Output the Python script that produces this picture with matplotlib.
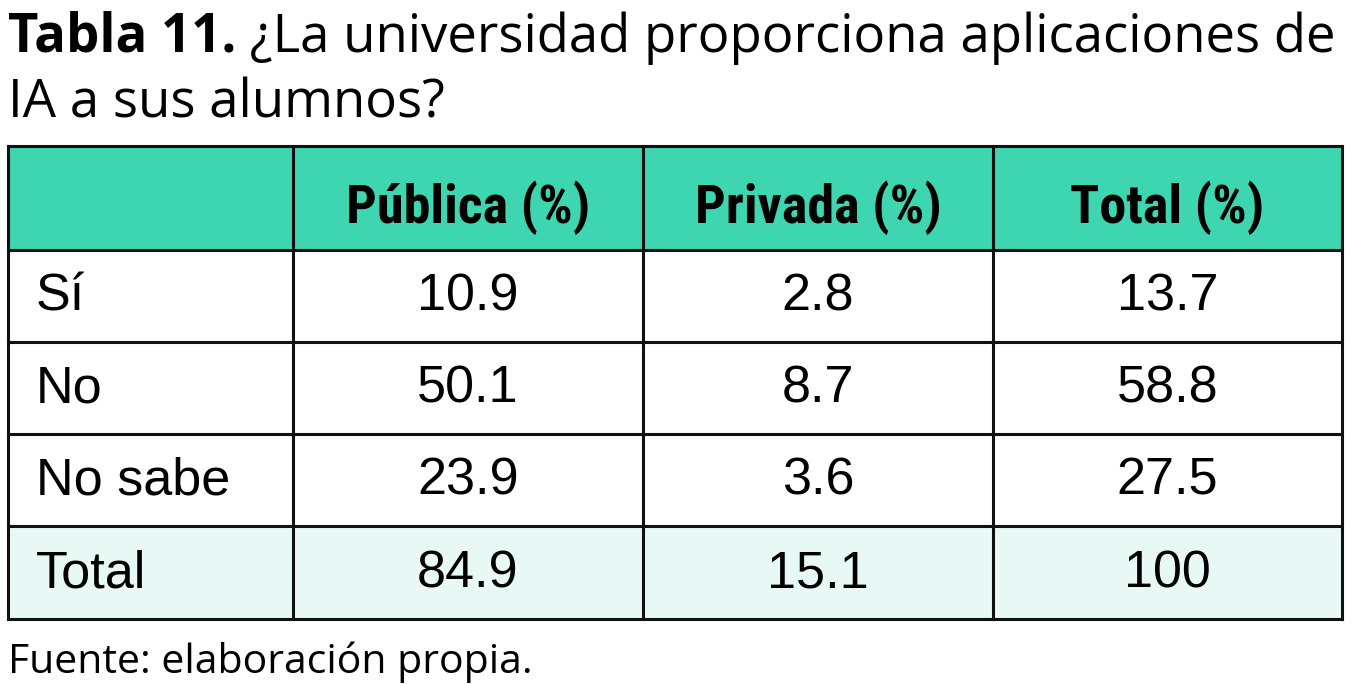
import matplotlib
matplotlib.use("Agg")
import matplotlib.pyplot as plt
from matplotlib.patches import Rectangle

# datos de la tabla
col_labels = ["Pública (%)", "Privada (%)", "Total (%)"]
row_labels = ["Sí", "No", "No sabe", "Total"]
publica = ["10.9", "50.1", "23.9", "84.9"]
privada = ["2.8", "8.7", "3.6", "15.1"]
total = ["13.7", "58.8", "27.5", "100"]

title_bold = "Tabla 11."
title_rest = " ¿La universidad proporciona aplicaciones de"
title_line2 = "IA a sus alumnos?"
fuente = "Fuente: elaboración propia."

W, H = 1357, 684
fig = plt.figure(figsize=(W / 100, H / 100), dpi=100)
ax = fig.add_axes([0, 0, 1, 1])
ax.set_xlim(0, W)
ax.set_ylim(H, 0)
ax.axis("off")

header_col = "#3dd6b0"
total_col = "#e8f9f5"
xs = [8, 293, 643, 993, 1342]
ys = [146, 250, 342, 434, 526, 619]

cond = ["Roboto Condensed", "IBM Plex Sans Condensed", "DejaVu Sans"]
sans = ["Open Sans", "DejaVu Sans"]

# fondos
ax.add_patch(Rectangle((xs[0], ys[0]), xs[-1] - xs[0], ys[1] - ys[0], fc=header_col, ec="none"))
ax.add_patch(Rectangle((xs[0], ys[4]), xs[-1] - xs[0], ys[5] - ys[4], fc=total_col, ec="none"))

# lineas
for x in xs:
    ax.plot([x, x], [ys[0], ys[-1]], color="#111111", lw=2.2, solid_capstyle="projecting")
for y in ys:
    ax.plot([xs[0], xs[-1]], [y, y], color="#111111", lw=2.2, solid_capstyle="projecting")

# encabezados
for j, lab in enumerate(col_labels):
    ax.text((xs[j + 1] + xs[j + 2]) / 2, 223, lab, ha="center", va="baseline",
            fontsize=39, fontweight="bold", family=cond)

cols = [publica, privada, total]
for i, lab in enumerate(row_labels):
    yc = (ys[i + 1] + ys[i + 2]) / 2 + 1
    ax.text(xs[0] + 28, yc, lab, ha="left", va="center", fontsize=37.5, family="Liberation Sans")
    for j, c in enumerate(cols):
        ax.text((xs[j + 1] + xs[j + 2]) / 2, yc, c[i], ha="center", va="center",
                fontsize=37.5, family="Liberation Sans")

# titulo
t1 = ax.text(8, 52, title_bold, ha="left", va="baseline", fontsize=38, fontweight="bold", family=sans)
fig.canvas.draw()
bb = t1.get_window_extent(fig.canvas.get_renderer())
ax.text(8 + bb.width, 52, title_rest, ha="left", va="baseline", fontsize=38, family=sans)
ax.text(8, 117, title_line2, ha="left", va="baseline", fontsize=38, family=sans)

ax.text(8, 673, fuente, ha="left", va="baseline", fontsize=29.5, family=sans)

fig.savefig("out.png", dpi=100)
